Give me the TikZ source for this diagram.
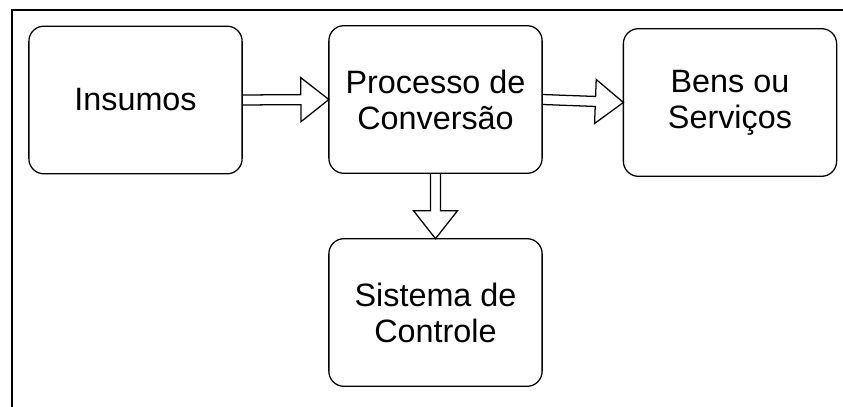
\documentclass[tikz,border=0pt]{standalone}
\usepackage{fontspec}
\setmainfont{Liberation Sans}
\usetikzlibrary{calc}

\begin{document}
\begin{tikzpicture}
  [x=0.025cm,y=0.025cm,
   every node/.style={draw,rounded corners=10.7pt,line width=0.9pt,
     minimum width=5.33cm,minimum height=3.69cm,inner sep=0pt,outer sep=0pt,
     align=center,font=\fontsize{23}{25.6}\selectfont},
   hollow/.style={draw,line width=0.9pt,line join=miter,
     to path={let \p1=($(\tikztotarget)-(\tikztostart)$),
       \n1={atan2(\y1,\x1)}, \n2={veclen(\x1,\y1)} in
       ($(\tikztostart)+(\n1+90:3.56pt)$) -- ++(\n1:\n2-19.9pt) -- ++(\n1+90:12.1pt)
       -- (\tikztotarget) -- ($(\tikztotarget)+(\n1+180:19.9pt)+(\n1-90:15.65pt)$)
       -- ++(\n1+90:12.1pt) -- ++(\n1+180:\n2-19.9pt)}}]
  \useasboundingbox (0,0) rectangle (843,407);
  \draw[line width=1.2pt] (12,0) -- (12,397) -- (843,397);
  \node (n1) at (135.5,307) {Insumos};
  \node (n2) at (435.5,307.5) {Processo de\\Conversão};
  \node (n3) at (730,304.5) {Bens ou\\Serviços};
  \node (n4) at (435.5,94.5) {Sistema de\\Controle};
  \foreach \from/\to in {n1.east/n2.west,n2.east/n3.west,n2.south/n4.north}
    \draw[hollow] (\from) to (\to);
\end{tikzpicture}
\end{document}
